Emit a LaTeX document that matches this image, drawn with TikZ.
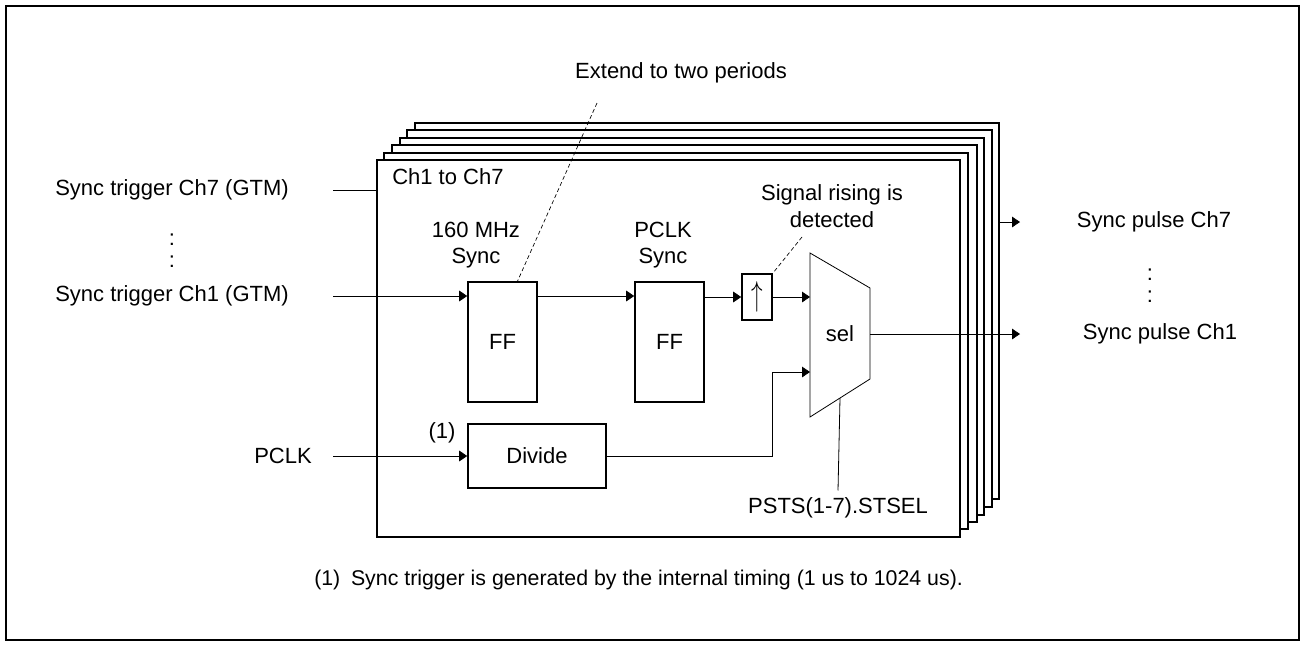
\documentclass[tikz,border=0pt]{standalone}
\usepackage{fontspec}
\usepackage{graphicx}
\setmainfont{Liberation Sans}
\usetikzlibrary{arrows.meta,calc}

\begin{document}
\begin{tikzpicture}[x=0.75pt, y=-0.75pt,
    lbl/.style={inner sep=0pt, font=\fontsize{16.5}{20}\selectfont, align=center},
    blk/.style={draw, line width=1.2pt, fill=white, inner sep=0pt, font=\fontsize{16.5}{20}\selectfont},
    frm/.style={draw, line width=1.2pt, fill=white},
    sig/.style={line width=0.6pt, -{Triangle[length=6pt,width=8pt]}},
    wire/.style={line width=0.6pt},
    note/.style={line width=0.5pt, dash pattern=on 3pt off 2pt}]
% 1px = 0.75pt, y grows downwards
\def\px{0.75pt}
\useasboundingbox (0,0) rectangle (1301,644);
% Outer frame
\draw[line width=1.5pt] (6,6) rectangle (1299,640);
% Stacked channel frames, back to front
\draw[frm] (415,123) rectangle (999,499);
\draw[frm] (407,130) rectangle (992,507);
\draw[frm] (400,138) rectangle (984,515);
\draw[frm] (392,145) rectangle (977,522);
\draw[frm] (384,153) rectangle (968,529);
\node[frm, minimum width=583*\px, minimum height=377*\px, inner sep=0pt] (chan) at (668.5,348.5) {};
\node[lbl, anchor=west] (chlbl) at (392,177) {Ch1 to Ch7};

% Inputs
\node[lbl] (trig7) at (172,190) {Sync trigger Ch7 (GTM)};
\node[lbl] (dotl1) at (172,240) {:};
\node[lbl] (dotl2) at (172,262) {:};
\node[lbl] (trig1) at (172,296) {Sync trigger Ch1 (GTM)};
\node[lbl] (pclk) at (283,456) {PCLK};
\coordinate (t7) at (333,190);
\coordinate (t1) at (333,296);
\coordinate (pc) at (333,456);

% Blocks
\node[blk, minimum width=69*\px, minimum height=120*\px] (ff1) at (502.5,342) {FF};
\node[blk, minimum width=69*\px, minimum height=120*\px] (ff2) at (669.5,342) {FF};
\node[blk, minimum width=30*\px, minimum height=46*\px] (edge) at (757,297) {\scalebox{1}[1.5]{$\uparrow$}};
\node[blk, minimum width=138*\px, minimum height=64*\px] (div) at (537,456) {Divide};
\node[lbl] (sync160) at (476,245) {160 MHz\\Sync};
\node[lbl] (syncpclk) at (663,245) {PCLK\\Sync};
\node[lbl] (fn1) at (442,433) {(1)};

% Selector
\coordinate (m1) at (810,253);
\coordinate (m2) at (870,288);
\coordinate (m3) at (870,379);
\coordinate (m4) at (810,417);
\draw[wire] (m1) -- (m2) -- (m3) -- (m4) -- cycle;
\node[lbl] (sel) at (840,334) {sel};
\coordinate (min2) at (810,372);
\coordinate (mout) at (870,334);
\coordinate (ms) at ($(m4)!0.5!(m3)$);
\node[lbl] (stsel) at (838,508) {PSTS(1-7).STSEL};

% Outputs
\coordinate (o7s) at (999,222);
\coordinate (o7) at (1020,222);
\coordinate (o1) at (1020,334);
\node[lbl] (pulse7) at (1154,222) {Sync pulse Ch7};
\node[lbl] (dotr1) at (1150,275) {:};
\node[lbl] (dotr2) at (1150,297) {:};
\node[lbl] (pulse1) at (1160,334) {Sync pulse Ch1};

% Connectors
\draw[wire] (t7) -- (t7 -| chan.west);
\draw[sig] (t1) -- (t1 -| ff1.west);
\draw[sig] (ff1.east |- t1) -- (ff2.west |- t1);
\draw[sig] (ff2.east |- edge.west) -- (edge.west);
\draw[sig] (edge.east) -- (edge.east -| m1);
\draw[sig] (pc) -- (div.west);
\draw[sig] (div.east) -- (div.east -| edge.east) |- (min2);
\draw[wire] (ms) -- ([yshift=7*\px]stsel.north);
\draw[sig] (mout) -- (o1);
\draw[sig] (o7s) -- (o7);

% Notes
\node[lbl] (ext) at (681,73) {Extend to two periods};
\node[lbl] (rise) at (832,206) {Signal rising is\\detected};
\coordinate (e1) at (597,103);
\coordinate (r1) at (802,237);
\draw[note] (e1) -- ([xshift=15*\px]ff1.north);
\draw[note] (r1) -- (edge.north east);

% Footnote
\node[lbl, anchor=west, font=\fontsize{16}{20}\selectfont] (foot) at (314,580) {(1)\hspace{0.5em}Sync trigger is generated by the internal timing (1 us to 1024 us).};
\end{tikzpicture}
\end{document}
